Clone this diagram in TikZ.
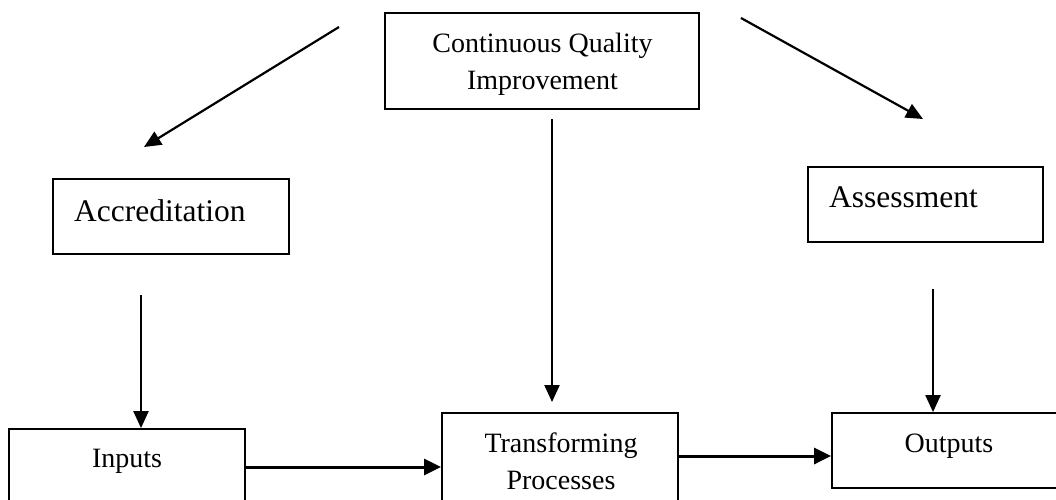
\documentclass[tikz,border=0pt]{standalone}
\usepackage{fontspec}
\setmainfont{Liberation Serif}
\usetikzlibrary{arrows.meta}
\tikzset{
  box/.style={draw=black, line width=1.8pt, inner sep=0pt, fill=none},
  lbl/.style={inner sep=0pt, anchor=base, font=\fontsize{28}{34}\selectfont},
  biglbl/.style={inner sep=0pt, anchor=base west, font=\fontsize{31.5}{38}\selectfont},
  arr/.style={line width=2.2pt, -{Triangle[length=17pt,width=15pt]}},
  harr/.style={line width=3pt, -{Triangle[length=17pt,width=16pt]}},
}
\begin{document}
\begin{tikzpicture}[x=1pt,y=-1pt]
\useasboundingbox (0,0) rectangle (1056,499);
\clip (0,0) rectangle (1056,499);
\fill[white] (0,0) rectangle (1056,499);
% boxes
\node[box, minimum width=314pt, minimum height=96pt] (cqi) at (542,61) {};
\node[box, minimum width=236pt, minimum height=75pt] (acc) at (171,216.5) {};
\node[box, minimum width=235pt, minimum height=75pt] (ass) at (925.5,204.5) {};
\node[box, minimum width=236pt, minimum height=82pt] (inp) at (127,470) {};
\node[box, minimum width=236pt, minimum height=98pt] (tra) at (560,462) {};
\node[box, minimum width=234pt, minimum height=75pt] (out) at (949,450.5) {};
% labels
\node[lbl] (cqi1) at (542.5,52) {Continuous Quality};
\node[lbl] (cqi2) at (542.5,89) {Improvement};
\node[biglbl] (accl) at (74,221) {Accreditation};
\node[biglbl] (assl) at (829,207) {Assessment};
\node[lbl] (inpl) at (127,467) {Inputs};
\node[lbl] (tral1) at (561,452) {Transforming};
\node[lbl] (tral2) at (561,489) {Processes};
\node[lbl] (outl) at (949,452) {Outputs};
% connector ends
\coordinate (s1) at (339,27);
\coordinate (e1) at (144,147);
\coordinate (s2) at (741,18);
\coordinate (e2) at (923,119);
\coordinate (s3) at (552,119);
\coordinate (e3) at (552,402);
\coordinate (s4) at (141,295);
\coordinate (s5) at (933,289);
\coordinate (h1) at (245,467);
\coordinate (h2) at (678,456);
% connectors
\draw[arr] (s1) -- (e1);
\draw[arr] (s2) -- (e2);
\draw[arr] (s3) -- (e3);
\draw[arr] (s4) -- (s4 |- inp.north);
\draw[arr] (s5) -- (s5 |- out.north);
\draw[harr] (h1) -- (h1 -| tra.west);
\draw[harr] (h2) -- (h2 -| out.west);
\end{tikzpicture}
\end{document}
